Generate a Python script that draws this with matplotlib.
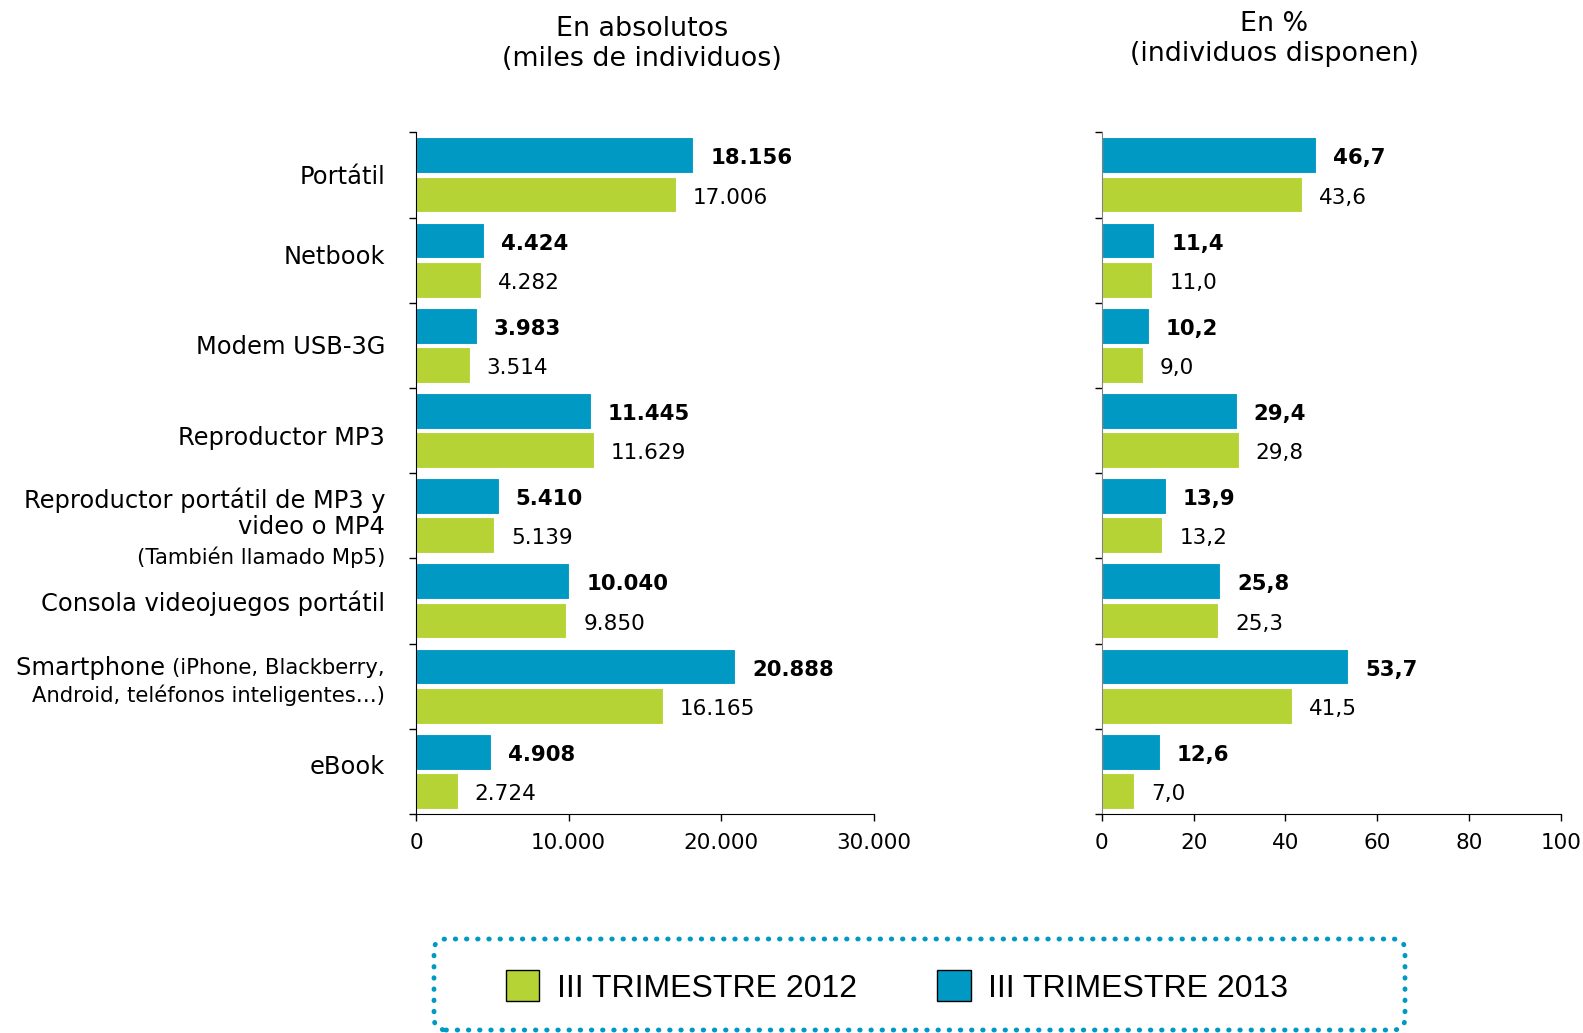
import matplotlib
matplotlib.use("Agg")
import matplotlib.pyplot as plt
from matplotlib.patches import FancyBboxPatch, Patch
from matplotlib.transforms import IdentityTransform
import numpy as np

# datos
categorias = ["Portátil", "Netbook", "Modem USB-3G", "Reproductor MP3",
              "Reproductor portátil de MP3 y", "Consola videojuegos portátil",
              "Smartphone", "eBook"]
abs_2013 = [18156, 4424, 3983, 11445, 5410, 10040, 20888, 4908]
abs_2012 = [17006, 4282, 3514, 11629, 5139, 9850, 16165, 2724]
pct_2013 = [46.7, 11.4, 10.2, 29.4, 13.9, 25.8, 53.7, 12.6]
pct_2012 = [43.6, 11.0, 9.0, 29.8, 13.2, 25.3, 41.5, 7.0]
ticks_abs = [0, 10000, 20000, 30000]
ticks_pct = [0, 20, 40, 60, 80, 100]

AZUL = "#0099C4"
VERDE = "#B5D334"

plt.rcParams['font.family'] = ['DejaVu Sans']

fig = plt.figure(figsize=(15.83, 10.33), dpi=100)
ax1 = fig.add_axes([0.2628, 0.2120, 0.2893, 0.6599])
ax2 = fig.add_axes([0.6960, 0.2120, 0.2901, 0.6599])

y = np.arange(len(categorias))


def miles(v):
    return f"{v:,}".replace(",", ".")


def coma(v):
    return f"{v:.1f}".replace(".", ",")


def panel(ax, v13, v12, xmax, xticks, fmt_val, fmt_tick, spine_col):
    b13 = ax.barh(y - 0.23, v13, height=0.42, color=AZUL, edgecolor="white", linewidth=0.8)
    b12 = ax.barh(y + 0.23, v12, height=0.42, color=VERDE, edgecolor="white", linewidth=0.8)
    for i in range(len(y)):
        ax.annotate(fmt_val(v13[i]), xy=(v13[i], y[i] - 0.23), xytext=(17, -3),
                    textcoords="offset pixels", va="center", ha="left",
                    fontsize=15.3, fontweight="bold")
        ax.annotate(fmt_val(v12[i]), xy=(v12[i], y[i] + 0.23), xytext=(17, -3),
                    textcoords="offset pixels", va="center", ha="left", fontsize=15.5)
    ax.set_xlim(0, xmax)
    ax.set_ylim(len(y) - 0.5, -0.5)
    ax.set_xticks(xticks)
    ax.set_xticklabels([fmt_tick(t) for t in xticks], fontsize=15.5)
    ax.set_yticks(y)
    ax.set_yticklabels([])
    ax.set_yticks(np.arange(-0.5, len(y), 1.0), minor=True)
    ax.tick_params(axis="y", which="major", length=0)
    ax.tick_params(axis="y", which="minor", length=5, width=1)
    ax.tick_params(axis="x", length=5, width=1, pad=9)
    for s in ["top", "right"]:
        ax.spines[s].set_visible(False)
    ax.spines["left"].set_color(spine_col)
    return b13, b12


b13, b12 = panel(ax1, abs_2013, abs_2012, 30000, ticks_abs, miles, miles, "black")
panel(ax2, pct_2013, pct_2012, 100, ticks_pct, coma, lambda t: str(t), "#808080")

# etiquetas de categorías
def etiqueta(txt, i, dy=0, size=17.4, dx=-31):
    return ax1.annotate(txt, xy=(0, i), xycoords=("axes fraction", "data"),
                        xytext=(dx, dy - 2), textcoords="offset pixels",
                        ha="right", va="center", fontsize=size)


etiqueta("Portátil", 0)
etiqueta("Netbook", 1, dy=5)
etiqueta("Modem USB-3G", 2)
etiqueta("Reproductor MP3", 3, dy=-5)
etiqueta("Reproductor portátil de MP3 y", 4, dy=18)
etiqueta("video o MP4", 4, dy=-9)
etiqueta("(También llamado Mp5)", 4, dy=-39, size=15.3)
etiqueta("Consola videojuegos portátil", 5)
t = etiqueta("(iPhone, Blackberry,", 6, dy=20, size=15.2)
etiqueta("Android, teléfonos inteligentes…)", 6, dy=-7, size=15.2)
etiqueta("eBook", 7, dy=6)
r = fig.canvas.get_renderer()
w = t.get_window_extent(renderer=r).width
etiqueta("Smartphone ", 6, dy=20, dx=-31 - w)

# títulos
fig.text(642 / 1583, 1 - 44 / 1033, "En absolutos\n(miles de individuos)",
         ha="center", va="center", fontsize=19.4, linespacing=1.2)
fig.text(1274 / 1583, 1 - 39 / 1033, "En %\n(individuos disponen)",
         ha="center", va="center", fontsize=19.4, linespacing=1.2)

# leyenda
marco = FancyBboxPatch((434, 1033 - 1030), 971, 91,
                       boxstyle="round,pad=0,rounding_size=12",
                       transform=IdentityTransform(), facecolor="none",
                       edgecolor=AZUL, linewidth=3.5, linestyle=(0, (0.1, 2.2)),
                       capstyle="round")
fig.add_artist(marco)
handles = [Patch(facecolor=VERDE, edgecolor="black", label="III TRIMESTRE 2012"),
           Patch(facecolor=AZUL, edgecolor="black", label="III TRIMESTRE 2013")]
fig.legend(handles=handles, loc="center", bbox_to_anchor=(897 / 1583, 1 - 987 / 1033),
           ncol=2, frameon=False, prop={"family": ["Liberation Sans", "DejaVu Sans"], "size": 23},
           handlelength=1.05, handleheight=1.1, handletextpad=0.55, columnspacing=2.5)

fig.savefig("out.png", dpi=100)
